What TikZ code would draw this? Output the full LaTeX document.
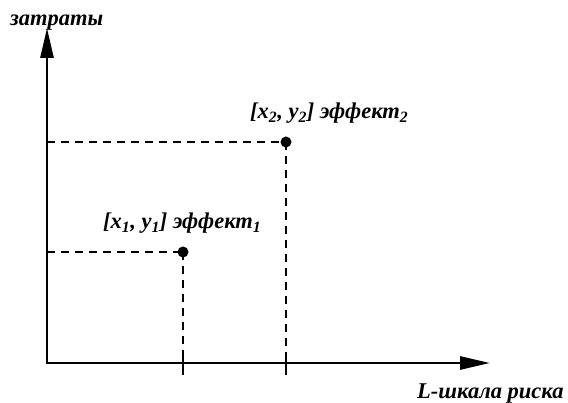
\documentclass[tikz,border=0pt]{standalone}
\usepackage{fontspec}
\setmainfont{Liberation Serif}
\usetikzlibrary{arrows.meta}
\begin{document}
\begin{tikzpicture}[x=1pt,y=-1pt,
  lbl/.style={inner sep=0pt, anchor=base west, font=\fontsize{22.5}{24}\selectfont\bfseries\itshape},
  axis/.style={line width=2.8pt, -{Triangle[length=30pt,width=13pt]}},
  guide/.style={line width=1.3pt, dash pattern=on 8pt off 6pt},
  tickmark/.style={line width=1.6pt},
  dot/.style={circle, fill=black, inner sep=0pt, minimum size=11pt}]
\useasboundingbox (0,0) rectangle (568,403);
\coordinate (O) at (47,363);
\coordinate (ytop) at (47,28);
\coordinate (xend) at (490,363);
\node[dot] (p1) at (183,252) {};
\node[dot] (p2) at (286,142) {};
\coordinate (h1) at (47,252);
\coordinate (h2) at (47,142);
\coordinate (v1) at (183,363);
\coordinate (v2) at (286,363);
\coordinate (t1a) at (183,355);
\coordinate (t1b) at (183,375);
\coordinate (t2a) at (286,355);
\coordinate (t2b) at (286,375);
\draw[guide] (h1) -- (p1.center);
\draw[guide] (h2) -- (p2.center);
\draw[guide] (p1.center) -- (v1);
\draw[guide] (p2.center) -- (v2);
\draw[tickmark] (t1a) -- (t1b);
\draw[tickmark] (t2a) -- (t2b);
\draw[axis] ([yshift=1.4pt]O) -- (ytop);
\draw[axis] ([xshift=-1.4pt]O) -- (xend);
\node[lbl] (ylab) at (10,26) {затраты};
\node[lbl] (l2) at (250,119) {[x\textsubscript{2}, y\textsubscript{2}] эффект\textsubscript{2}};
\node[lbl] (l1) at (103,229) {[x\textsubscript{1}, y\textsubscript{1}] эффект\textsubscript{1}};
\node[lbl] (xlab) at (417,399) {L-шкала риска};
\end{tikzpicture}
\end{document}
